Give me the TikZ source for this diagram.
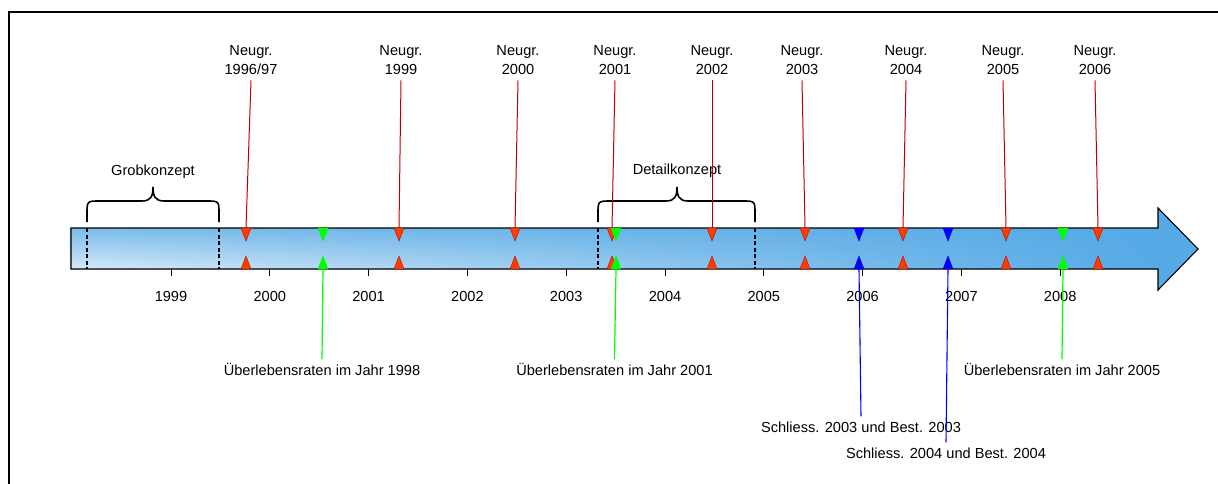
\documentclass[tikz,border=0pt]{standalone}
\usepackage{fontspec}
\setmainfont{Liberation Sans}
\usetikzlibrary{fadings}
\definecolor{barblue}{HTML}{56AAE6}
\definecolor{bartop}{HTML}{7CBDEB}
\definecolor{barbot}{HTML}{D6EAF9}
\definecolor{neured}{HTML}{C00000}
\definecolor{trired}{HTML}{FF3C00}
\definecolor{okgreen}{HTML}{00FF00}
\definecolor{okblue}{HTML}{0000FF}
\tikzfading[name=barfade, left color=transparent!0, right color=transparent!100]
\newcommand\marktri[3]{% x, fill, draw
  \filldraw[fill=#2,draw=#3,line width=0.4pt] (#1-5,228) -- (#1+5,228) -- (#1,241) -- cycle;
  \filldraw[fill=#2,draw=#3,line width=0.4pt] (#1-5,269) -- (#1+5,269) -- (#1,256) -- cycle;}
\newcommand\redmark[4]{% name, triangle x, label x, year
  \node[toplbl] (n#1) at (#3,60) {Neugr.\\#4};
  \coordinate (r#1) at (#2,228);
  \draw[redline] (n#1.south) -- (r#1);
  \marktri{#2}{trired}{neured}}
\newcommand\greenmark[4]{% name, triangle x, label x, year
  \coordinate (g#1) at (#2,269);
  \node[lbl] (u#1) at (#3,372) {Überlebensraten im Jahr #4};
  \draw[greenline] (g#1) -- (u#1.north);
  \marktri{#2}{okgreen}{okgreen}}
\newcommand\bluemark[5]{% name, triangle x, label x, label y, year
  \coordinate (b#1) at (#2,269);
  \node[lbl] (s#1) at (#3,#4) {Schliess. #5 und Best. #5};
  \draw[blueline] (b#1) -- (s#1.north);
  \marktri{#2}{okblue}{okblue}}
\newcommand\concbrace[4]{% name, x1, xm, x2
  \draw[bracestyle] (#2,222) -- (#2,214) .. controls (#2,201) .. (#2+13,201)
    -- (#3-11,201) .. controls (#3-2,201) and (#3,196) .. (#3,187)
    .. controls (#3,196) and (#3+2,201) .. (#3+11,201)
    -- (#4-13,201) .. controls (#4,201) .. (#4,214) -- (#4,222);
  \draw[dashline] (#2,228) -- (#2,269);
  \draw[dashline] (#4,228) -- (#4,269);}
\begin{document}
\begin{tikzpicture}[x=1pt,y=-1pt,
  font=\fontsize{14.6}{18.5}\selectfont,
  lbl/.style={inner sep=0pt, text height=10.5pt, text depth=3pt, outer sep=6pt},
  toplbl/.style={inner sep=0pt, align=center, outer sep=6pt},
  redline/.style={neured, line width=1pt},
  greenline/.style={okgreen, line width=1.2pt},
  blueline/.style={okblue, line width=1.1pt},
  bracestyle/.style={black, line width=1.6pt},
  dashline/.style={black, line width=1.2pt, dash pattern=on 4pt off 2.5pt},
  tickstyle/.style={black, line width=0.9pt}]
\useasboundingbox (0,0) rectangle (1218,484);
% frame
\draw[line width=2pt] (9,484) -- (9,12) -- (1218,12);
% arrow bar
\fill[barblue] (71,228) -- (1158,228) -- (1158,208) -- (1198,249) -- (1158,290) -- (1158,269) -- (71,269) -- cycle;
\shade[top color=bartop, bottom color=barbot, path fading=barfade] (71,228) rectangle (1158,269);
\draw[black, line width=1.1pt] (71,228) -- (1158,228) -- (1158,208) -- (1198,249) -- (1158,290) -- (1158,269) -- (71,269) -- cycle;
% ticks and years
\foreach \k/\yr in {0/1999,1/2000,2/2001,3/2002,4/2003,5/2004,6/2005,7/2006,8/2007,9/2008}{
  \coordinate (t\yr) at (171+98.8*\k,269);
  \draw[tickstyle] (t\yr) -- ++(0,7);
  \node[lbl, outer sep=0pt] (y\yr) at (171+98.8*\k,298) {\yr};
}
% braces
\concbrace{grob}{87}{153}{219}
\node[lbl, outer sep=0pt] (grob) at (153,172) {Grobkonzept};
\concbrace{detail}{598}{677}{755}
\node[lbl, outer sep=0pt] (detail) at (677,171) {Detailkonzept};
% red markers
\redmark{a}{246}{251}{1996/97}
\redmark{b}{399}{401}{1999}
\redmark{c}{515}{518}{2000}
\redmark{d}{612}{615}{2001}
\redmark{e}{712}{712}{2002}
\redmark{f}{805}{802}{2003}
\redmark{g}{903}{906}{2004}
\redmark{h}{1006}{1003}{2005}
\redmark{i}{1098}{1095}{2006}
% green markers
\greenmark{a}{323}{322}{1998}
\greenmark{b}{616}{614.5}{2001}
\greenmark{c}{1063}{1062}{2005}
% blue markers
\bluemark{a}{859}{861}{429}{2003}
\bluemark{b}{948}{946}{455}{2004}
\end{tikzpicture}
\end{document}
